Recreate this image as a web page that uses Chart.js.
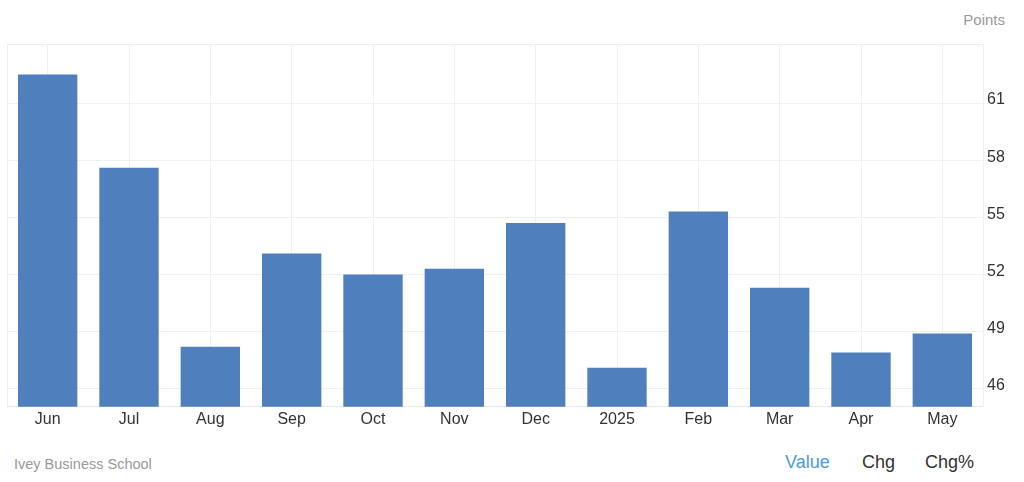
<!DOCTYPE html>
<html>
<head>
<meta charset="utf-8">
<script src="https://cdn.jsdelivr.net/npm/chart.js@4"></script>
<style>
  html, body { margin: 0; padding: 0; background: #fff; }
  body { width: 1024px; height: 482px; position: relative; overflow: hidden; font-family: "Liberation Sans", Arial, sans-serif; }
  #wrap { position: absolute; left: 0; top: 0; width: 1024px; height: 432px; }
  .unit { position: absolute; right: 19px; top: 11px; font-size: 15px; color: #999; }
  .src { position: absolute; left: 14px; top: 456px; font-size: 14.5px; color: #999; }
  .tabs { position: absolute; top: 452px; font-size: 18px; color: #333; }
</style>
</head>
<body>
<div class="unit">Points</div>
<div id="wrap"><canvas id="chart"></canvas></div>
<div class="src">Ivey Business School</div>
<div class="tabs" style="left:785px;color:#4a9be0">Value</div>
<div class="tabs" style="left:862px">Chg</div>
<div class="tabs" style="left:925px">Chg%</div>
<script>
// Ivey PMI, Jun 2024 - May 2025
const months = ['Jun', 'Jul', 'Aug', 'Sep', 'Oct', 'Nov', 'Dec', '2025', 'Feb', 'Mar', 'Apr', 'May'];
const pmiValues = [62.5, 57.6, 48.2, 53.1, 52.0, 52.3, 54.7, 47.1, 55.3, 51.3, 47.9, 48.9];
const yTicks = [46, 49, 52, 55, 58, 61];

new Chart('chart', {
    type: 'bar',
    data: {
        labels: months,
        datasets: [{
            data: pmiValues,
            backgroundColor: '#4f80bd',
            borderWidth: 0,
            barPercentage: 0.73,
            categoryPercentage: 1
        }]
    },
    options: {
        responsive: true,
        maintainAspectRatio: false,
        animation: false,
        layout: { padding: { left: 7, top: 44, right: 0, bottom: 0 } },
        plugins: { legend: { display: false }, tooltip: { enabled: false } },
        scales: {
            x: {
                grid: { color: '#f0f0f0', offset: false, drawTicks: false },
                border: { color: '#e8e8e8' },
                ticks: { color: '#333', font: { family: 'Liberation Sans', size: 16 }, padding: 3 }
            },
            y: {
                position: 'right',
                min: 45.05,
                max: 64.1,
                afterBuildTicks: axis => { axis.ticks = yTicks.map(v => ({ value: v })); },
                grid: { color: '#f0f0f0', drawTicks: false },
                border: { color: '#f0f0f0' },
                afterFit: axis => { axis.width = 41; },
                ticks: { color: '#333', font: { family: 'Liberation Sans', size: 16 }, padding: 4, labelOffset: -3 }
            }
        }
    },
    plugins: [{
        id: 'frame',
        beforeDraw(chart) {
            const { ctx, chartArea } = chart;
            ctx.save();
            ctx.strokeStyle = '#eeeeee';
            ctx.lineWidth = 1;
            ctx.beginPath();
            ctx.moveTo(chartArea.left + 0.5, chartArea.bottom);
            ctx.lineTo(chartArea.left + 0.5, chartArea.top + 0.5);
            ctx.lineTo(chartArea.right, chartArea.top + 0.5);
            ctx.stroke();
            ctx.restore();
        }
    }]
});
</script>
</body>
</html>
